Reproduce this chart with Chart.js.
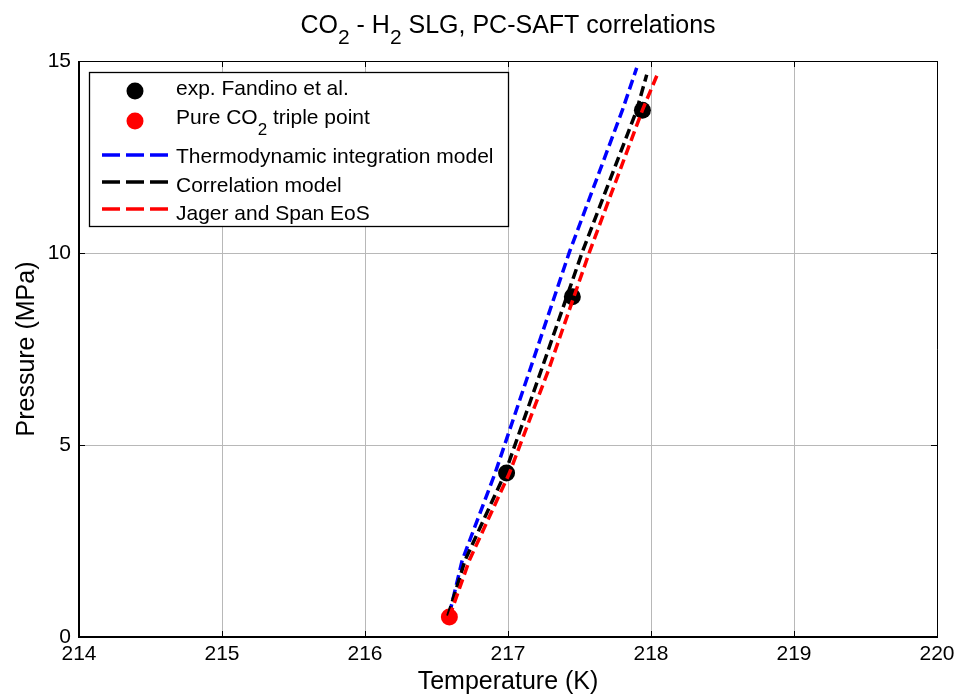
<!DOCTYPE html>
<html>
<head>
<meta charset="utf-8">
<script src="https://cdn.jsdelivr.net/npm/chart.js@4/dist/chart.umd.min.js"></script>
<style>
  html, body { margin: 0; padding: 0; background: #ffffff; }
  canvas { display: block; }
</style>
</head>
<body>
<canvas id="c" width="956" height="699"></canvas>
<script>
// Temperature (K) / pressure (MPa) data for the CO2 - H2 solid-liquid-gas line
const expT = [216.99, 217.45, 217.94];
const expP = [4.27, 8.86, 13.72];

const tripleT = [216.59];
const tripleP = [0.518];

const thermoT = [216.59, 216.68, 216.91, 217.15, 217.43, 217.80, 217.90];
const thermoP = [0.60, 2.00, 4.27, 6.92, 10.03, 13.72, 14.82];

const corrT = [216.58, 216.70, 216.98, 217.23, 217.52, 217.90, 217.97];
const corrP = [0.55, 2.00, 4.27, 6.92, 10.03, 13.72, 14.64];

const jagerT = [216.59, 216.73, 217.01, 217.28, 217.57, 217.94, 218.05];
const jagerP = [0.52, 2.00, 4.27, 6.92, 10.03, 13.72, 14.70];

const xTicks = [214, 215, 216, 217, 218, 219, 220];
const yTicks = [0, 5, 10, 15];

const FONT = '"Liberation Sans", Arial, Helvetica, sans-serif';

function pts(xs, ys) { return xs.map((x, i) => ({ x: x, y: ys[i] })); }

// Draws a run of text pieces, where pieces flagged sub are set as subscripts
function richWidth(ctx, parts, size, subSize) {
  let w = 0;
  parts.forEach(p => {
    ctx.font = (p.sub ? subSize : size) + 'px ' + FONT;
    w += ctx.measureText(p.t).width;
  });
  return w;
}
function drawRich(ctx, parts, x, y, size, subSize, subDrop, align) {
  const w = richWidth(ctx, parts, size, subSize);
  let cx = align === 'center' ? x - w / 2 : x;
  ctx.textAlign = 'left';
  ctx.textBaseline = 'alphabetic';
  ctx.fillStyle = '#000';
  parts.forEach(p => {
    ctx.font = (p.sub ? subSize : size) + 'px ' + FONT;
    ctx.fillText(p.t, cx, p.sub ? y + subDrop : y);
    cx += ctx.measureText(p.t).width;
  });
}

const decor = {
  id: 'decor',
  afterDatasetsDraw(chart) {
    const ctx = chart.ctx;
    const a = chart.chartArea;
    const xs = chart.scales.x, ys = chart.scales.y;
    ctx.save();

    // inward tick marks on all four sides
    ctx.strokeStyle = '#000';
    ctx.lineWidth = 1;
    ctx.beginPath();
    xTicks.forEach(v => {
      const px = Math.round(xs.getPixelForValue(v)) + 0.5;
      ctx.moveTo(px, a.bottom); ctx.lineTo(px, a.bottom - 6);
      ctx.moveTo(px, a.top); ctx.lineTo(px, a.top + 6);
    });
    yTicks.forEach(v => {
      const py = Math.round(ys.getPixelForValue(v)) + 0.5;
      ctx.moveTo(a.left, py); ctx.lineTo(a.left + 6, py);
      ctx.moveTo(a.right, py); ctx.lineTo(a.right - 6, py);
    });
    ctx.stroke();

    // axes box
    ctx.lineWidth = 1;
    ctx.beginPath();
    ctx.moveTo(a.left, a.top + 0.5); ctx.lineTo(a.right + 0.5, a.top + 0.5);
    ctx.lineTo(a.right + 0.5, a.bottom);
    ctx.stroke();
    ctx.lineWidth = 2;
    ctx.beginPath();
    ctx.moveTo(a.left, a.top); ctx.lineTo(a.left, a.bottom); ctx.lineTo(a.right + 1, a.bottom);
    ctx.stroke();

    // legend box
    const lx = 89, ly = 72, lw = 419, lh = 154;
    ctx.fillStyle = '#fff';
    ctx.fillRect(lx, ly, lw, lh);
    ctx.lineWidth = 1.3;
    ctx.strokeStyle = '#000';
    ctx.strokeRect(lx + 0.5, ly + 0.5, lw, lh);

    const tx = 176;
    // marker entries
    ctx.fillStyle = '#000';
    ctx.beginPath(); ctx.arc(135, 91, 8.5, 0, Math.PI * 2); ctx.fill();
    ctx.fillStyle = '#ff0000';
    ctx.beginPath(); ctx.arc(135, 121, 8.5, 0, Math.PI * 2); ctx.fill();
    drawRich(ctx, [{ t: 'exp. Fandino et al.' }], tx, 95, 21, 17, 11, 'left');
    drawRich(ctx, [{ t: 'Pure CO' }, { t: '2', sub: true }, { t: ' triple point' }], tx, 124, 21, 17, 11, 'left');

    // line entries
    const lines = [
      { c: '#0000ff', y: 155, label: 'Thermodynamic integration model', ty: 163 },
      { c: '#000000', y: 182, label: 'Correlation model', ty: 192 },
      { c: '#ff0000', y: 209, label: 'Jager and Span EoS', ty: 220 }
    ];
    lines.forEach(l => {
      ctx.strokeStyle = l.c;
      ctx.lineWidth = 3.5;
      ctx.setLineDash([18, 6]);
      ctx.beginPath(); ctx.moveTo(102, l.y); ctx.lineTo(168, l.y); ctx.stroke();
      ctx.setLineDash([]);
      drawRich(ctx, [{ t: l.label }], tx, l.ty, 21, 17, 11, 'left');
    });

    // title and axis titles
    const cxm = (a.left + a.right) / 2;
    drawRich(ctx, [{ t: 'CO' }, { t: '2', sub: true }, { t: ' - H' }, { t: '2', sub: true }, { t: ' SLG, PC-SAFT correlations' }],
      cxm, 33, 25, 21, 11, 'center');
    ctx.font = '25px ' + FONT;
    ctx.fillStyle = '#000';
    ctx.textAlign = 'center';
    ctx.textBaseline = 'middle';
    ctx.fillText('Temperature (K)', cxm, 682);
    ctx.translate(27, (a.top + a.bottom) / 2);
    ctx.rotate(-Math.PI / 2);
    ctx.fillText('Pressure (MPa)', 0, 0);
    ctx.restore();
  }
};

const lineStyle = (color, order) => ({
  showLine: true,
  borderColor: color,
  backgroundColor: color,
  borderWidth: 3.5,
  borderDash: [10, 5],
  pointRadius: 0,
  fill: false,
  tension: 0,
  order: order
});

new Chart(document.getElementById('c'), {
  type: 'scatter',
  data: {
    datasets: [
      Object.assign({ label: 'Jager and Span EoS', data: pts(jagerT, jagerP) }, lineStyle('#ff0000', 0)),
      Object.assign({ label: 'Correlation model', data: pts(corrT, corrP) }, lineStyle('#000000', 1)),
      Object.assign({ label: 'Thermodynamic integration model', data: pts(thermoT, thermoP) }, lineStyle('#0000ff', 2)),
      { label: 'exp. Fandino et al.', data: pts(expT, expP), showLine: false,
        pointRadius: 8.5, pointBackgroundColor: '#000', pointBorderWidth: 0, order: 3 },
      { label: 'Pure CO2 triple point', data: pts(tripleT, tripleP), showLine: false,
        pointRadius: 8.5, pointBackgroundColor: '#ff0000', pointBorderWidth: 0, order: 4 }
    ]
  },
  options: {
    responsive: false,
    animation: false,
    devicePixelRatio: 1,
    layout: { padding: { top: 61, right: 19, left: 0, bottom: 0 } },
    plugins: { legend: { display: false }, title: { display: false }, tooltip: { enabled: false } },
    scales: {
      x: {
        type: 'linear', min: 214, max: 220,
        afterBuildTicks: s => { s.ticks = xTicks.map(v => ({ value: v })); },
        afterFit: s => { s.height = 62; s.paddingLeft = 0; s.paddingRight = 0; },
        ticks: { color: '#000', font: { family: FONT, size: 21 }, padding: 5, maxRotation: 0 },
        grid: { color: '#b8b8b8', lineWidth: 1, drawTicks: false },
        border: { display: false }
      },
      y: {
        type: 'linear', min: 0, max: 15,
        afterBuildTicks: s => { s.ticks = yTicks.map(v => ({ value: v })); },
        afterFit: s => { s.width = 79; s.paddingTop = 0; s.paddingBottom = 0; },
        ticks: { color: '#000', font: { family: FONT, size: 21 }, padding: 8 },
        grid: { color: '#b8b8b8', lineWidth: 1, drawTicks: false },
        border: { display: false }
      }
    }
  },
  plugins: [decor]
});
</script>
</body>
</html>
